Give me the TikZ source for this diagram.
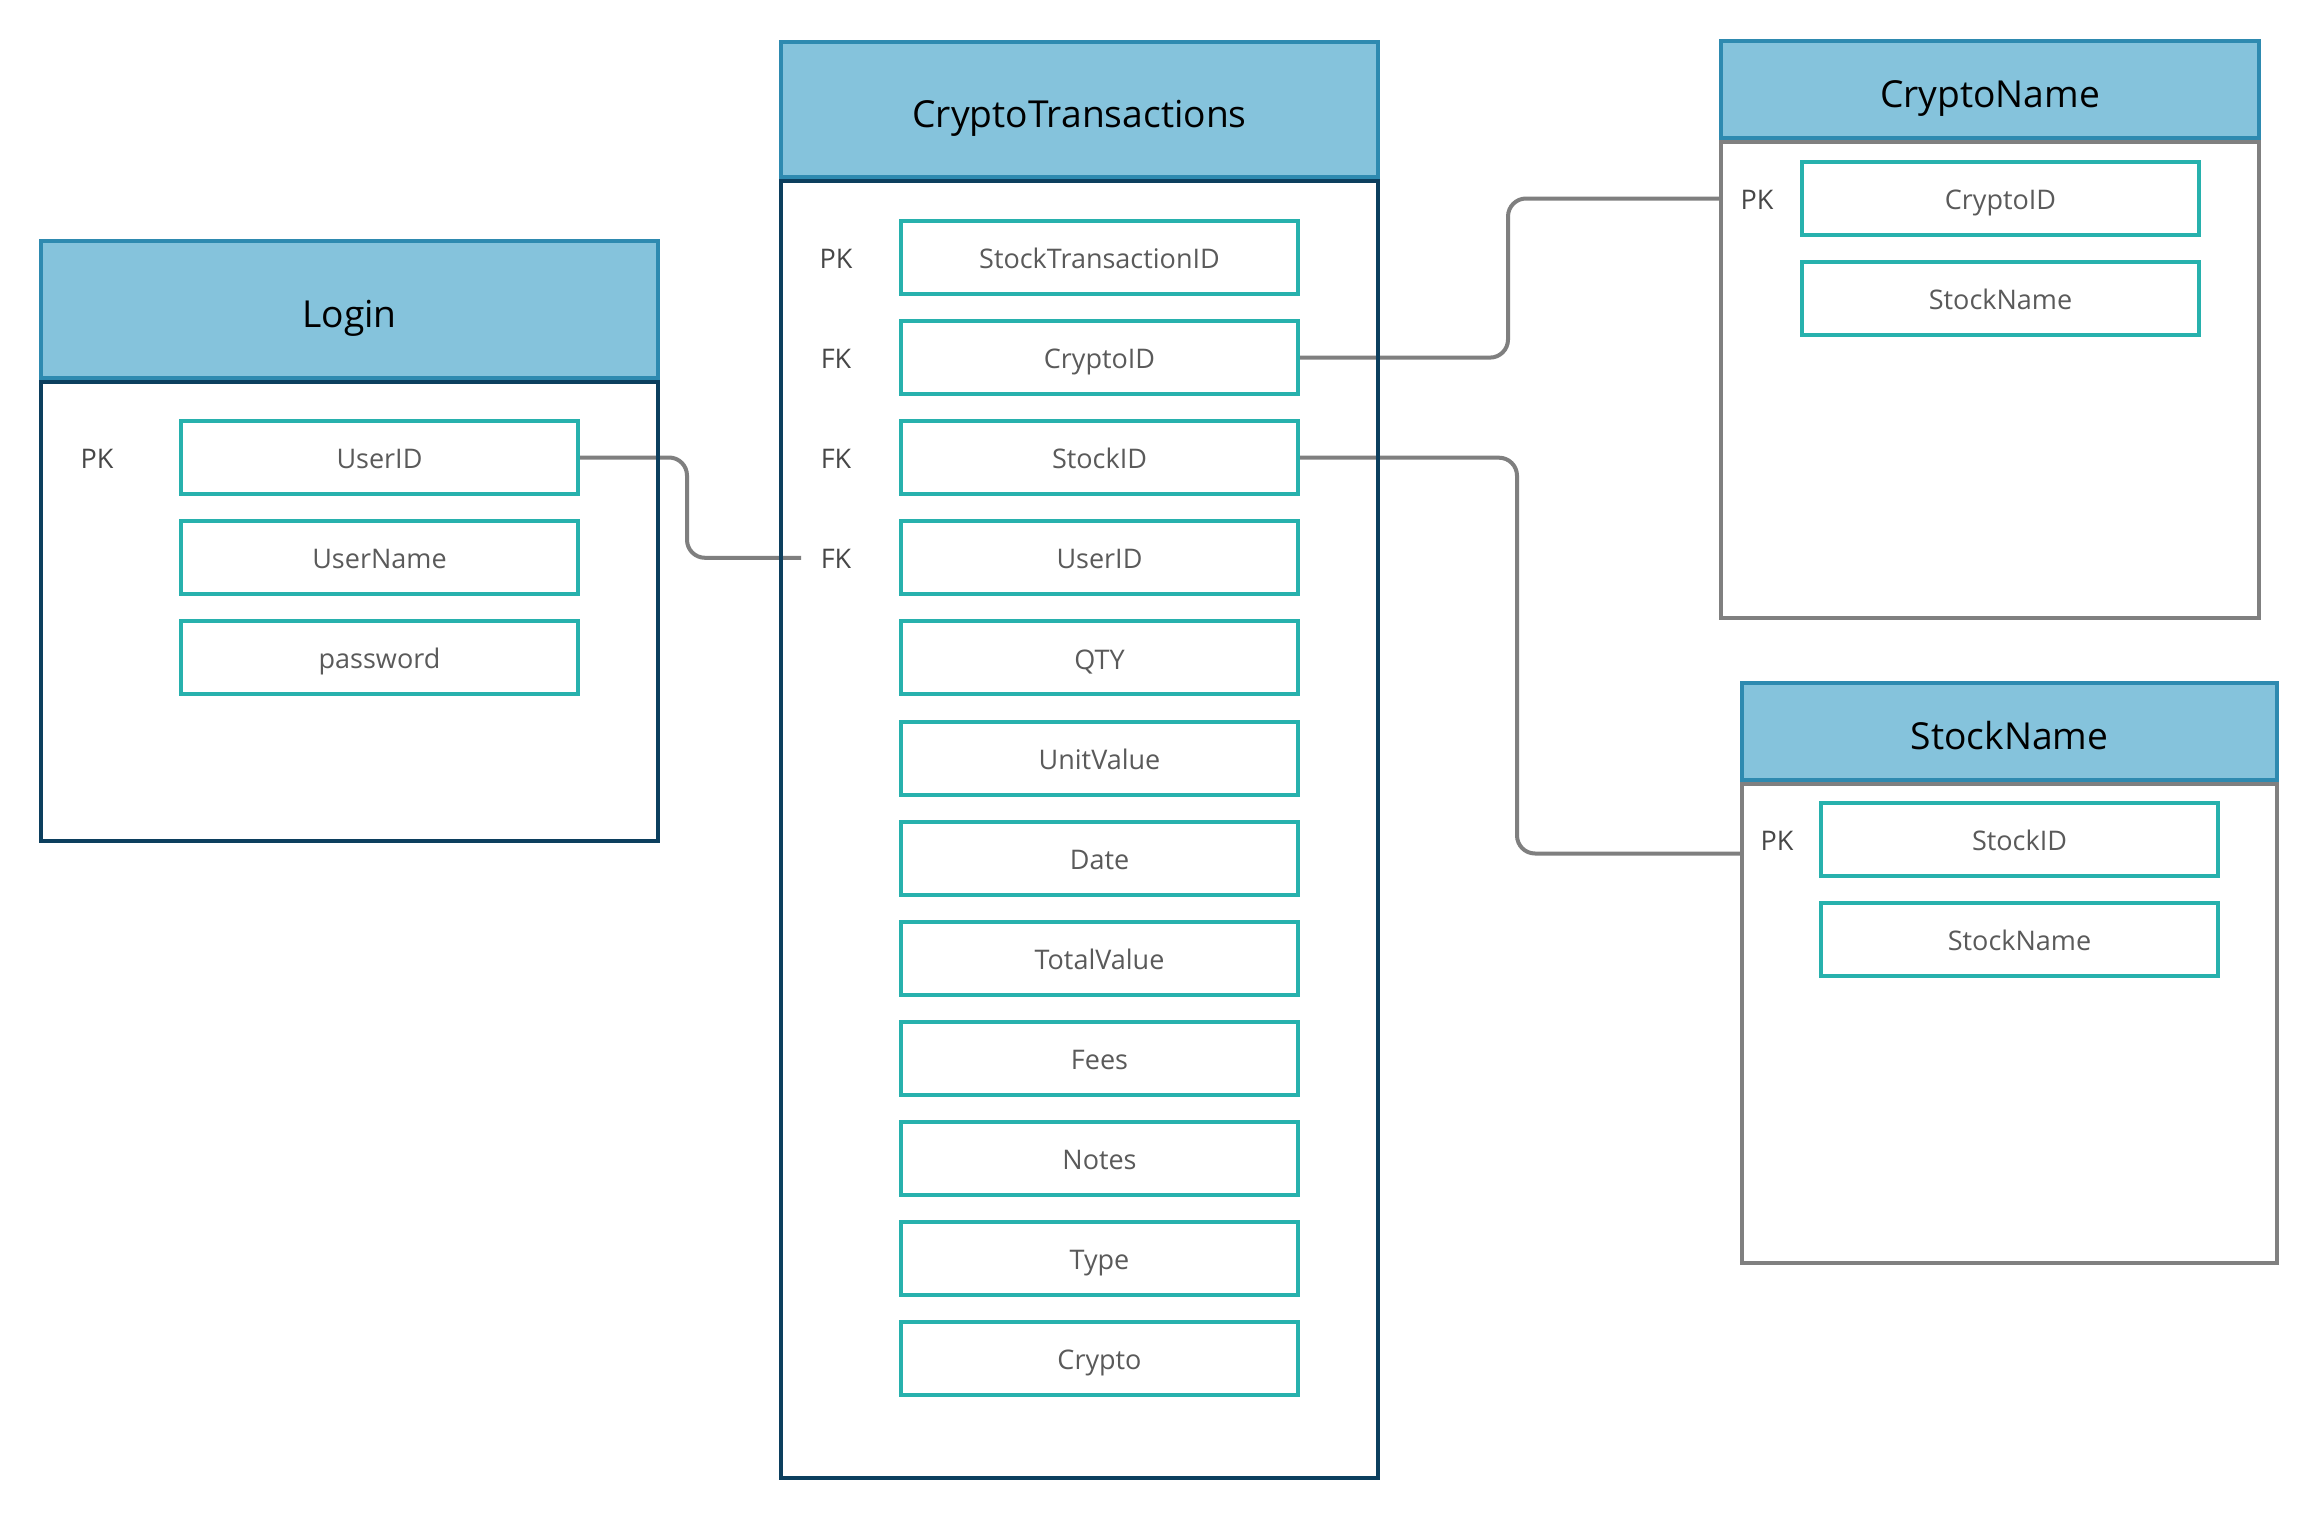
\documentclass[tikz,border=0pt]{standalone}
\usepackage{fontspec}
\setmainfont{Open Sans}
\usetikzlibrary{calc}
\definecolor{hdrfill}{HTML}{85C3DC}
\definecolor{hdrline}{HTML}{2E8AB0}
\definecolor{navyline}{HTML}{0C3F5E}
\definecolor{greyline}{HTML}{808080}
\definecolor{fieldline}{HTML}{27B1AD}
\definecolor{fieldtxt}{HTML}{5A5A5A}
\definecolor{keytxt}{HTML}{474747}
\definecolor{connline}{HTML}{7F7F7F}
\pgfdeclarelayer{bg}
\pgfdeclarelayer{paper}
\pgfsetlayers{paper,bg,main}
\begin{document}
\begin{tikzpicture}[x=0.5pt,y=-0.5pt,
  tblbody/.style n args={3}{draw=#3, line width=1.9pt, inner sep=0pt, outer sep=0pt,
    minimum width={(#1-4)*0.5pt}, minimum height={(#2-4)*0.5pt}},
  tblhead/.style 2 args={draw=hdrline, fill=hdrfill, line width=2pt, inner sep=0pt, outer sep=0pt,
    minimum width={(#1-4)*0.5pt}, minimum height={(#2-4)*0.5pt},
    font=\fontsize{18.6pt}{22pt}\selectfont, text=black, text height=17.8pt, text depth=0pt},
  field/.style={draw=fieldline, line width=2pt, inner sep=0pt, outer sep=0pt,
    minimum width=198.5pt, minimum height=36.5pt,
    font=\fontsize{13.5pt}{16pt}\selectfont, text=fieldtxt, text height=11.1pt, text depth=0pt},
  keylbl/.style={inner sep=0pt, font=\fontsize{13.5pt}{16pt}\selectfont, text=keytxt,
    text height=11.1pt, text depth=0pt},
  conn/.style={draw=connline, line width=2pt, rounded corners=9pt}
]
\begin{pgfonlayer}{paper}
\fill[white] (0,0) rectangle (2320,1521);
\end{pgfonlayer}
\useasboundingbox (0,0) rectangle (2320,1521);

% ---------- Login ----------
\node[tblbody={621}{463}{navyline}] (lbody) at (349.5,611.5) {};
\node[tblhead={621}{141}] (lhead) at (349.5,309.5) {Login};
\node[field] (lu) at (379.5,457.5) {UserID};
\node[field] (ln) at (379.5,557.5) {UserName};
\node[field] (lp) at (379.5,657.5) {password};
\node[keylbl] (lpk) at (97,457.5) {PK};

% ---------- CryptoTransactions ----------
\node[tblbody={601}{1301}{navyline}] (ctbody) at (1079.5,829.5) {};
\node[tblhead={601}{139}] (cthead) at (1079.5,109.5) {CryptoTransactions};
\node[field] (ct1) at (1099.5,257.5) {StockTransactionID};
\node[field] (ct2) at (1099.5,357.6) {CryptoID};
\node[field] (ct3) at (1099.5,457.7) {StockID};
\node[field] (ct4) at (1099.5,557.8) {UserID};
\node[field] (ct5) at (1099.5,657.9) {QTY};
\node[field] (ct6) at (1099.5,758.0) {UnitValue};
\node[field] (ct7) at (1099.5,858.1) {Date};
\node[field] (ct8) at (1099.5,958.2) {TotalValue};
\node[field] (ct9) at (1099.5,1058.3) {Fees};
\node[field] (ct10) at (1099.5,1158.4) {Notes};
\node[field] (ct11) at (1099.5,1258.5) {Type};
\node[field] (ct12) at (1099.5,1358.6) {Crypto};
\node[keylbl] (ctk1) at (836,257.5) {PK};
\node[keylbl] (ctk2) at (836,357.6) {FK};
\node[keylbl] (ctk3) at (836,457.7) {FK};
\node[keylbl] (ctk4) at (836,557.8) {FK};
\coordinate (uend) at (801,557.8);

% ---------- CryptoName ----------
\node[tblbody={542}{480}{greyline}] (cnbody) at (1990,380) {};
\node[tblhead={542}{101}] (cnhead) at (1990,89.5) {CryptoName};
\node[field] (cn1) at (2000.5,198.5) {CryptoID};
\node[field] (cn2) at (2000.5,298.5) {StockName};
\node[keylbl] (cnpk) at (1757,198.5) {PK};

% ---------- StockName ----------
\node[tblbody={539}{483}{greyline}] (snbody) at (2009.5,1023.5) {};
\node[tblhead={539}{101}] (snhead) at (2009.5,731.5) {StockName};
\node[field] (sn1) at (2019.5,839.5) {StockID};
\node[field] (sn2) at (2019.5,939.5) {StockName};
\node[keylbl] (snpk) at (1777,839.5) {PK};
\coordinate (snend) at ($(snbody.west |- sn1)+(0,14)$);

% ---------- connectors ----------
\begin{pgfonlayer}{bg}
\draw[conn] (lu.east) -- ++(109,0) |- (uend);
\draw[conn] (ct2.east) -- ++(210,0) |- (cnbody.west |- cn1);
\draw[conn] (ct3.east) -- ++(219,0) |- (snend);
\end{pgfonlayer}
\end{tikzpicture}
\end{document}
